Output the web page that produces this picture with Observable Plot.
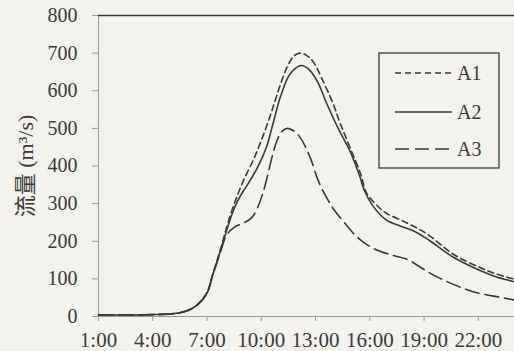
<!DOCTYPE html>
<html><head><meta charset="utf-8">
<script src="https://cdn.jsdelivr.net/npm/d3@7"></script>
<script src="https://cdn.jsdelivr.net/npm/@observablehq/plot@0.6"></script>
<style>
html,body{margin:0;padding:0;background:#f3f2ec;}
#chart{position:relative;width:514px;height:351px;}
#chart svg text{font-family:"Liberation Serif",Tinos,"Times New Roman","Noto Sans CJK SC",serif !important;}
</style></head><body><div id="chart"></div>
<script>
const seriesNames = ["A1", "A2", "A3"];
const xTicks = [1, 4, 7, 10, 13, 16, 19, 22];
const yTicks = [0, 100, 200, 300, 400, 500, 600, 700, 800];
const yLabel = "流量 (m³/s)";

const hoursA1 = [1,2,3,4,5,5.5,6,6.5,7,7.3,7.7,8,8.35,8.65,9.0,9.55,10.0,10.47,10.84,11.4,11.8,12.15,12.5,12.86,13.4,13.97,14.35,14.9,15.5,15.8,16.3,16.9,18.0,19.15,20.6,22.1,23,24];
const flowA1  = [4,4,4,5,7,10,17,33,64,110,172,222,278,318,360,415,468,530,585,660,692,700,694,678,627,566,515,450,378,330,300,275,250,220,166,130,113,99];

const hoursA2 = [1,2,3,4,5,5.5,6,6.5,7,7.3,7.7,8,8.35,8.7,9.0,9.3,9.8,10.3,10.65,11.1,11.6,12.2,12.6,13.1,13.6,14.2,14.9,15.45,15.7,16.2,16.9,17.7,18.4,19.3,20.6,22.1,23,24];
const flowA2  = [4,4,4,5,7,10,17,32,62,108,168,215,268,308,333,355,397,452,513,590,645,667,658,625,568,505,440,372,335,292,257,240,228,202,158,122,105,92];

const hoursA3 = [1,2,3,4,5,5.5,6,6.5,7,7.3,7.7,8.07,8.5,9.0,9.46,9.8,10.1,10.35,10.6,10.85,11.1,11.45,11.8,12.15,12.7,13.15,13.6,14.0,14.5,15.3,16.2,17.3,18.05,18.8,19.3,20.3,21.7,23.2,24];
const flowA3  = [4,4,4,5,7,10,17,32,62,108,165,215,237,248,262,290,330,375,425,465,490,500,493,476,423,361,317,285,255,211,181,162,152,131,116,92,66,51,44];

const dashes = {A1: "6,4", A2: null, A3: "14,6"};
const toRows = (name, hs, vs) => hs.map((h, i) => ({series: name, hour: h, flow: vs[i]}));
const rows = {
  A1: toRows("A1", hoursA1, flowA1),
  A2: toRows("A2", hoursA2, flowA2),
  A3: toRows("A3", hoursA3, flowA3)
};

const ink = "#3a3a3a";
const serif = "'Liberation Serif', Tinos, 'Times New Roman', serif";
const chart = Plot.plot({
  width: 514, height: 351,
  marginLeft: 98, marginRight: 0, marginTop: 15, marginBottom: 35,
  style: {background: "transparent", fontFamily: serif, color: ink},
  x: {domain: [1, 24]},
  y: {domain: [0, 800]},
  marks: [
    Plot.ruleY([0], {stroke: "#9a9a9a", strokeWidth: 1}),
    Plot.ruleX([1], {stroke: "#9a9a9a", strokeWidth: 1}),
    Plot.ruleY([800], {stroke: ink, strokeWidth: 1.5}),
    Plot.axisX({ticks: xTicks, tickFormat: d => `${d}:00`, tickSize: 5, tickPadding: 11, fontSize: 21, label: null, stroke: "#9a9a9a", fill: ink, fontFamily: serif}),
    Plot.axisY({ticks: yTicks, tickSize: 6, tickPadding: 15, fontSize: 20, label: null, stroke: "#9a9a9a", fill: ink, fontFamily: serif}),
    ...seriesNames.map(s => Plot.line(rows[s], {
      x: "hour", y: "flow", stroke: ink, strokeWidth: 1.6,
      strokeDasharray: dashes[s] ?? undefined, curve: "catmull-rom"
    })),
    Plot.text([yLabel], {frameAnchor: "left", textAnchor: "middle", rotate: -90, dx: -73, fontSize: 22,
      fontFamily: serif, fill: ink})
  ]
});
document.getElementById("chart").appendChild(chart);

// legend box
const svg = d3.select(chart);
const lg = svg.append("g");
lg.append("rect").attr("x", 379).attr("y", 53).attr("width", 120).attr("height", 115)
  .attr("fill", "#f3f2ec").attr("stroke", ink).attr("stroke-width", 1.3);
const legendY = [73, 112, 149];
seriesNames.forEach((s, i) => {
  lg.append("line").attr("x1", 395).attr("x2", 452).attr("y1", legendY[i]).attr("y2", legendY[i])
    .attr("stroke", ink).attr("stroke-width", 1.6).attr("stroke-dasharray", dashes[s]);
  lg.append("text").attr("x", 457).attr("y", legendY[i]).attr("dy", "0.35em")
    .attr("text-anchor", "start")
    .attr("font-size", 20).attr("font-family", serif).attr("fill", ink).text(s);
});
</script></body></html>
